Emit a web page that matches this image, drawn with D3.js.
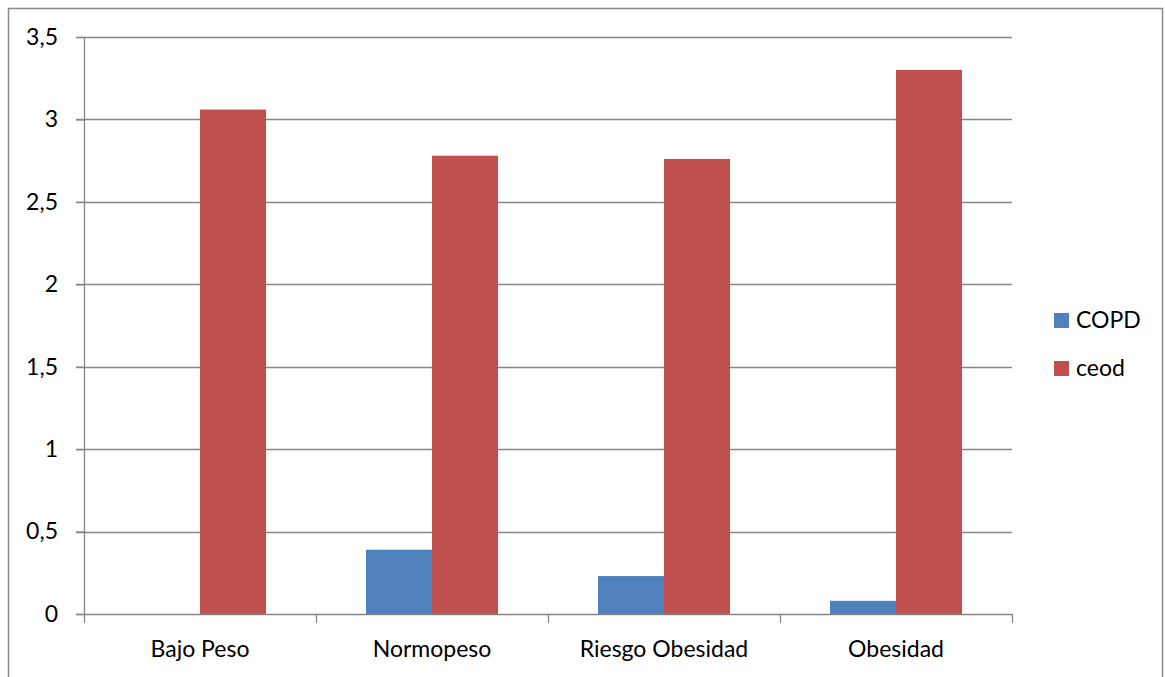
<!DOCTYPE html>
<html><head><meta charset="utf-8">
<script src="https://cdn.jsdelivr.net/npm/d3@7"></script>
<style>body{margin:0;background:#fff;}svg{display:block;font-family:Lato,"Open Sans",sans-serif;}</style>
</head><body>
<svg id="c" width="1165" height="677"></svg>
<script>
const categories = ["Bajo Peso", "Normopeso", "Riesgo Obesidad", "Obesidad"];
const seriesNames = ["COPD", "ceod"];
const copd = [0, 0.39, 0.23, 0.08];
const ceod = [3.06, 2.78, 2.76, 3.30];
const yTicks = [0, 0.5, 1, 1.5, 2, 2.5, 3, 3.5];
const colors = ["#4F81BD", "#C0504D"];
const FS = 23;

const svg = d3.select("#c");
// outer frame
svg.append("rect").attr("x", 8.5).attr("y", 8.5).attr("width", 1154).attr("height", 700)
  .attr("fill", "none").attr("stroke", "#888").attr("stroke-width", 1.5);

const L = 84, R = 1012, T = 37, B = 614;
const x = d3.scaleBand().domain(categories).range([L, R]).paddingInner(0).paddingOuter(0);
const y = d3.scaleLinear().domain([0, 3.5]).range([B, T]);
const inner = d3.scaleBand().domain(seriesNames).range([50, x.bandwidth() - 50]).paddingInner(0).paddingOuter(0);

// gridlines
svg.append("g").selectAll("line").data(yTicks.filter(d => d > 0)).join("line")
  .attr("x1", L - 8).attr("x2", R).attr("y1", d => Math.round(y(d)) + 0.5).attr("y2", d => Math.round(y(d)) + 0.5)
  .attr("stroke", "#868686").attr("stroke-width", 1.3);

// bars
const data = categories.map((c, i) => ({c, vals: [copd[i], ceod[i]]}));
const g = svg.append("g").selectAll("g").data(data).join("g")
  .attr("transform", d => `translate(${x(d.c)},0)`);
g.selectAll("rect").data(d => d.vals.map((v, j) => ({v, s: seriesNames[j], j}))).join("rect")
  .attr("x", d => inner(d.s)).attr("width", inner.bandwidth())
  .attr("y", d => y(d.v)).attr("height", d => y(0) - y(d.v))
  .attr("fill", d => colors[d.j]);

// y axis
const ya = d3.axisLeft(y).tickValues(yTicks).tickSize(8).tickPadding(18)
  .tickFormat(d => String(d).replace(".", ","));
const yg = svg.append("g").attr("transform", `translate(${L},0)`).call(ya);
yg.select(".domain").attr("stroke", "#868686").attr("stroke-width", 1.3).attr("d", `M0.5,${T}V${B}`);
yg.selectAll(".tick line").attr("stroke", "#868686").attr("stroke-width", 1.3);
yg.selectAll("text").attr("font-size", FS).attr("fill", "#000").attr("font-family", "Lato,'Open Sans',sans-serif");

// x axis
const xa = d3.axisBottom(x).tickSize(0).tickPadding(43);
const xg = svg.append("g").attr("transform", `translate(0,${B})`).call(xa);
xg.select(".domain").attr("stroke", "#868686").attr("stroke-width", 1.3).attr("d", `M${L - 8},0.5H${R}`);
xg.selectAll("text").attr("font-size", FS).attr("fill", "#000").attr("dy", 0).attr("font-family", "Lato,'Open Sans',sans-serif");
// category boundary ticks
svg.append("g").selectAll("line").data(d3.range(categories.length + 1)).join("line")
  .attr("x1", i => Math.round(L + i * x.bandwidth()) + 0.5).attr("x2", i => Math.round(L + i * x.bandwidth()) + 0.5)
  .attr("y1", B).attr("y2", B + 9).attr("stroke", "#868686").attr("stroke-width", 1.3);

// legend
const lg = svg.append("g").selectAll("g").data(seriesNames).join("g")
  .attr("transform", (d, i) => `translate(1054,${313 + i * 48})`);
lg.append("rect").attr("width", 15).attr("height", 15).attr("fill", (d, i) => colors[i]);
lg.append("text").attr("x", 22).attr("y", 15).attr("font-size", FS).attr("fill", "#000").text(d => d);
</script>
</body></html>
